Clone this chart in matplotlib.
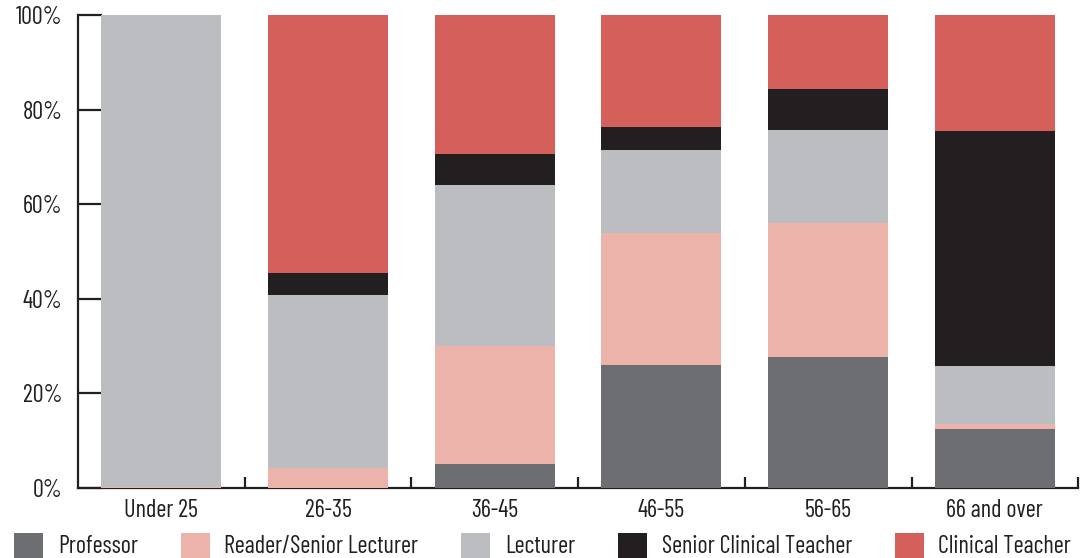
import matplotlib.pyplot as plt
import numpy as np
from matplotlib.patches import Patch

plt.rcParams['font.family'] = ['Barlow Condensed', 'DejaVu Sans']

# age groups and share (%) of each role
groups = ["Under 25", "26-35", "36-45", "46-55", "56-65", "66 and over"]
roles = ["Professor", "Reader/Senior Lecturer", "Lecturer",
         "Senior Clinical Teacher", "Clinical Teacher"]
professor = [0.0, 0.0, 5.1, 26.1, 27.6, 12.4]
reader = [0.2, 4.3, 25.0, 27.9, 28.5, 1.1]
lecturer = [99.8, 36.6, 33.9, 17.5, 19.5, 12.4]
senior_clin = [0.0, 4.5, 6.7, 4.9, 8.8, 49.5]
clinical = [0.0, 54.6, 29.3, 23.6, 15.6, 24.6]

colors = ["#6d6e72", "#ebb3a9", "#bcbdc1", "#231f20", "#d5605b"]
ink = "#231f20"

fig = plt.figure(figsize=(10.88, 5.58), dpi=100)
ax = fig.add_axes([0.0717, 0.1254, 0.9193, 0.8476])

x = np.arange(len(groups))
bottom = np.zeros(len(groups))
for vals, c in zip([professor, reader, lecturer, senior_clin, clinical], colors):
    ax.bar(x, vals, width=0.72, bottom=bottom, color=c, zorder=3)
    bottom += np.array(vals)

ax.set_xlim(-0.5, len(groups) - 0.5)
ax.set_ylim(0, 100)
ax.set_yticks(np.arange(0, 101, 20))
ax.set_yticklabels([f"{v}%" for v in range(0, 101, 20)])
ax.set_xticks(x)
ax.set_xticklabels(groups)
ax.set_xticks(np.arange(0.5, len(groups)), minor=True)

for s in ["top", "right"]:
    ax.spines[s].set_visible(False)
for s in ["left", "bottom"]:
    ax.spines[s].set_color(ink)
    ax.spines[s].set_linewidth(1.6)

ax.tick_params(axis="y", direction="in", length=17, width=1.6, color=ink,
               labelsize=17.5, labelcolor=ink, pad=11)
ax.tick_params(axis="x", which="major", length=0, labelsize=17.5,
               labelcolor=ink, pad=8)
ax.tick_params(axis="x", which="minor", direction="in", length=8,
               width=1.6, color=ink)

handles = [Patch(facecolor=c, edgecolor="none") for c in colors]
fig.legend(handles, roles, loc="lower left", bbox_to_anchor=(0.004, -0.018),
           ncol=5, frameon=False, fontsize=17.5, handlelength=1.2,
           handleheight=1.2, handletextpad=0.6, columnspacing=1.76,
           borderaxespad=0, labelcolor=ink)

fig.savefig("out.png", dpi=100)
